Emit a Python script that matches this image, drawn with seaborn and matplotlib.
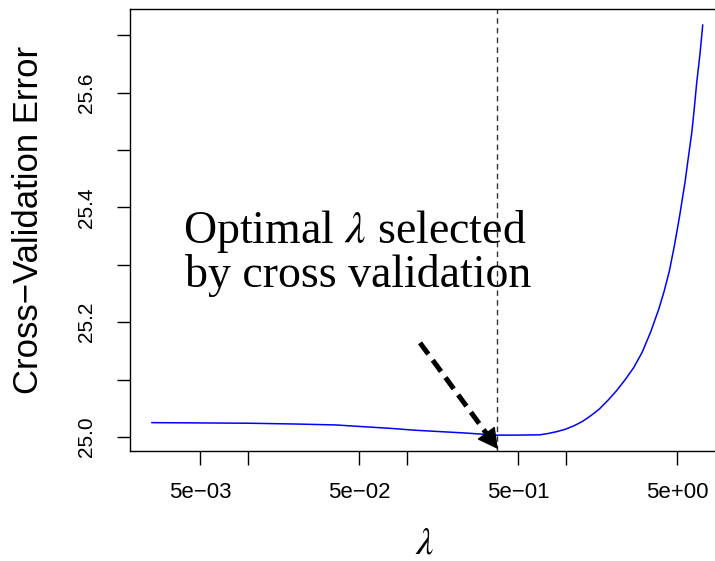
import numpy as np
import pandas as pd
import matplotlib
matplotlib.use("Agg")
import matplotlib.pyplot as plt
import seaborn as sns

# ---- data ----
lambdas = [0.00248, 0.00501, 0.0100, 0.0200, 0.0355, 0.0528, 0.0794, 0.1091,
           0.1585, 0.2249, 0.3664, 0.5012, 0.6855, 0.7762, 0.8770, 0.9931,
           1.122, 1.271, 1.436, 1.626, 1.837, 2.080, 2.350, 2.661, 3.006,
           3.404, 3.846, 4.140, 4.467, 4.808, 5.176, 5.598, 5.875, 6.180,
           6.412, 6.637, 6.966, 7.244]
cv_error = [25.025, 25.0245, 25.024, 25.0226, 25.021, 25.018, 25.015, 25.012,
            25.0095, 25.0072, 25.0032, 25.0033, 25.0038, 25.0062, 25.0094,
            25.0136, 25.0195, 25.0272, 25.0373, 25.0491, 25.064, 25.0807,
            25.0995, 25.1206, 25.147, 25.1826, 25.224, 25.2537, 25.289,
            25.3336, 25.384, 25.443, 25.486, 25.530, 25.573, 25.617, 25.668,
            25.718]
lambda_opt = 0.37
arrow_start = (0.1208, 25.164)
arrow_end = (0.373, 24.979)

x_major = [0.005, 0.01, 0.05, 0.1, 0.5, 1.0, 5.0]
x_labels = ["5e\u221203", "", "5e\u221202", "", "5e\u221201", "", "5e+00"]
y_major = [25.0, 25.1, 25.2, 25.3, 25.4, 25.5, 25.6, 25.7]
y_labels = ["25.0", "", "25.2", "", "25.4", "", "25.6", ""]

df = pd.DataFrame({"lambda": lambdas, "cv": cv_error})

sns.set_style("ticks")
plt.rcParams["font.family"] = ["Liberation Sans", "DejaVu Sans"]
plt.rcParams["mathtext.fontset"] = "stix"
plt.rcParams["text.color"] = "black"

W, H = 715, 561
fig = plt.figure(figsize=(W / 100, H / 100), dpi=100)
ax = fig.add_axes([130 / W, 1 - 451 / H, 595 / W, 442 / H])

sns.lineplot(data=df, x="lambda", y="cv", ax=ax, color="#0000FF", linewidth=1.1,
             estimator=None, sort=True)
ax.set_xscale("log")
ax.set_xlim(10 ** -2.742, 10 ** 1.0)
ax.set_ylim(24.9756, 25.7456)

ax.set_xticks(x_major)
ax.set_xticklabels(x_labels)
ax.minorticks_off()
ax.set_yticks(y_major)
ax.set_yticklabels(y_labels, rotation=90, va="center")

ax.tick_params(axis="x", direction="out", length=10, width=1.0, pad=12,
               labelsize=16, colors="black")
ax.tick_params(axis="y", direction="out", length=9.5, width=1.0, pad=15,
               labelsize=15, colors="black")
for s in ax.spines.values():
    s.set_color("black")
    s.set_linewidth(1.0)
ax.set_xlabel("")
ax.set_ylabel("")

# vertical dashed line at optimal lambda
ax.axvline(lambda_opt, color="#333333", linewidth=1.0, dashes=(4, 3))

# dashed arrow shaft + solid head
ax.figure.canvas.draw()
p0 = ax.transData.transform(arrow_start)
p1 = ax.transData.transform(arrow_end)
d = p1 - p0
u = d / np.hypot(*d)
head_base = ax.transData.inverted().transform(p1 - u * 20)
shaft_end = ax.transData.inverted().transform(p1 - u * 12)
ax.annotate("", xy=tuple(shaft_end), xytext=arrow_start,
            arrowprops=dict(arrowstyle="-", linewidth=3.6, color="black",
                            linestyle=(0, (2.8, 1.5)), shrinkA=0, shrinkB=0,
                            capstyle="butt"))
ax.annotate("", xy=arrow_end, xytext=tuple(head_base),
            arrowprops=dict(arrowstyle="-|>,head_length=0.65,head_width=0.35",
                            linewidth=1.0, color="black", shrinkA=0, shrinkB=0,
                            mutation_scale=20))

# annotation text
serif = ["Liberation Serif", "DejaVu Serif"]
fig.text(183 / W, 1 - 243 / H, r"Optimal $\lambda$ selected", family=serif,
         fontsize=33, ha="left", va="baseline", color="black")
fig.text(185 / W, 1 - 287 / H, "by cross validation", family=serif,
         fontsize=33, ha="left", va="baseline", color="black")

# axis titles
fig.text(29 / W, 1 - 220 / H, "Cross\u2212Validation Error", rotation=90,
         fontsize=25, ha="center", va="center", color="black")
fig.text(425 / W, 1 - 543 / H, r"$\lambda$", fontsize=28, ha="center",
         va="center", color="black")

fig.savefig("out.png", dpi=100)
